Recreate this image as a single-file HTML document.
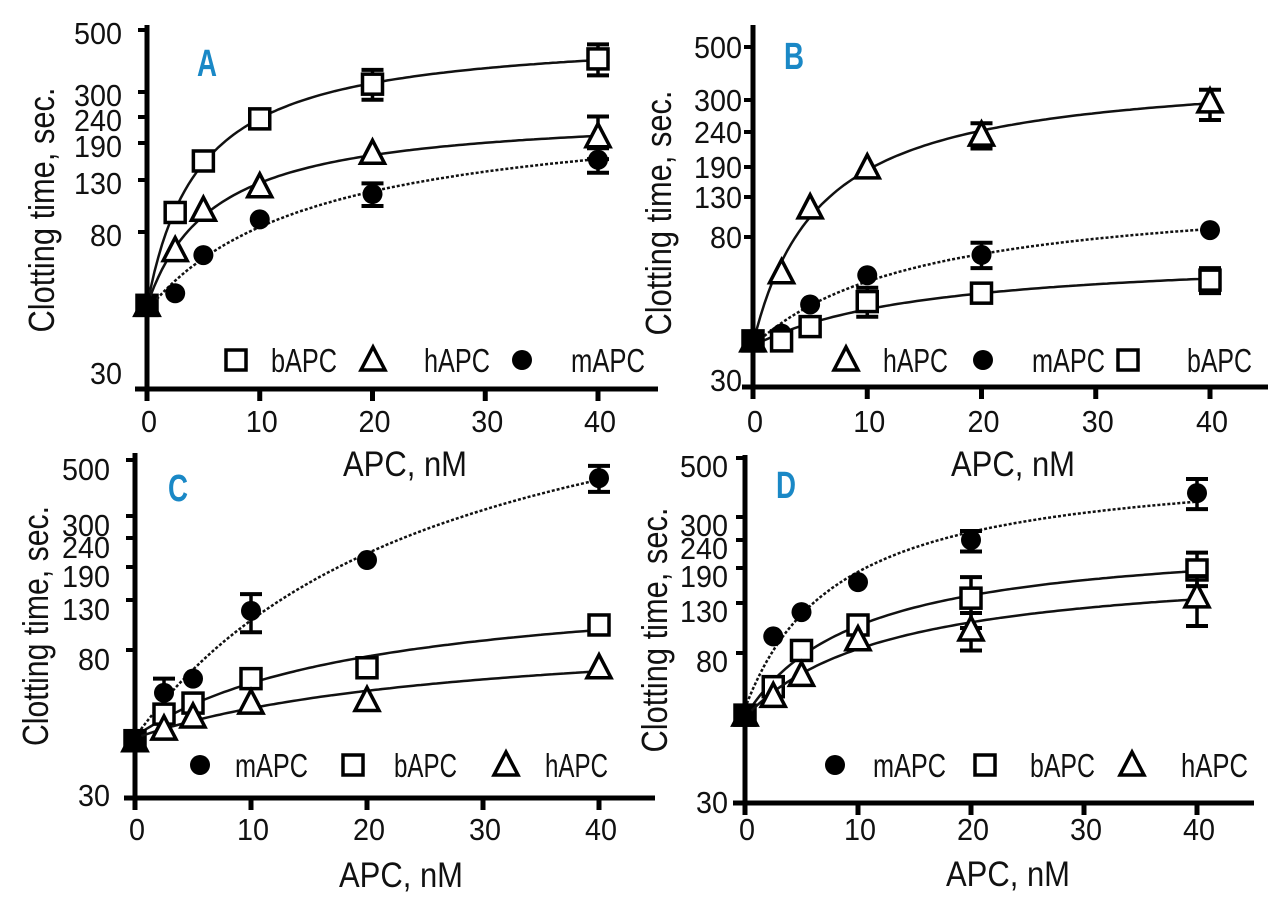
<!DOCTYPE html>
<html><head><meta charset="utf-8"><style>
html,body{margin:0;padding:0;background:#fff;}
svg{display:block;}
text{font-family:"Liberation Sans Narrow","Liberation Sans",sans-serif;fill:#111;}
</style></head><body>
<svg id="chart" width="1280" height="917" viewBox="0 0 1280 917" xmlns="http://www.w3.org/2000/svg"></svg>
<script>
// ---- data ----
const xVals = [0, 2.5, 5, 10, 20, 40];
const xTickVals = [0, 10, 20, 30, 40];
const yTickVals = [30, 80, 130, 190, 240, 300, 500];
const yTickLabels = ["30", "80", "130", "190", "240", "300", "500"];

const aB = [50, 96, 158, 236, 320, 394];
const aBerr = [0, 0, 0, 0, 40, 50];
const aH = [50, 71, 98, 122, 171, 201];
const aHerr = [0, 0, 0, 0, 0, 40];
const aM = [50, 54, 69, 90, 114, 160];
const aMerr = [0, 0, 0, 0, 12, 20];

const bH = [40, 63, 114, 188, 235, 296];
const bHerr = [0, 0, 0, 0, 20, 35];
const bM = [40, 42, 51, 62, 71, 87];
const bMerr = [0, 0, 0, 0, 6, 0];
const bB = [40, 40, 44, 52, 55, 60];
const bBerr = [0, 0, 0, 5, 0, 5];

const cM = [43.5, 60, 66, 117, 201, 424];
const cMerr = [0, 6, 0, 22, 0, 50];
const cB = [43.5, 52, 56, 66, 71, 102];
const cBerr = [0, 0, 0, 0, 0, 0];
const cH = [43.5, 47, 51, 56, 57, 71];
const cHerr = [0, 0, 0, 0, 0, 0];

const dM = [53, 94, 119, 163, 240, 369];
const dMerr = [0, 0, 0, 0, 22, 48];
const dB = [53, 64, 82, 105, 137, 186];
const dBerr = [0, 0, 0, 0, 35, 30];
const dH = [53, 60, 69, 91, 100, 139];
const dHerr = [0, 0, 0, 0, 18, 35];

// ---- panel geometry ----
const panels = [
 {id:'a', letter:'A', ox:147, x40:598, axisY:389, top:25, xStart:135, xEnd:658,
  tickPx:[385,232,180,143,117,92,30], lab30:373, labOff:3, labRight:122,
  letterX:197, letterY:76, titleX:41, titleY:210, titleLen:245, xTitleX:405, xTitleY:476, xLabY:432,
  legY:360,
  series:[{n:'bAPC',v:aB,e:aBerr,m:'sq',dash:false},{n:'hAPC',v:aH,e:aHerr,m:'tri',dash:false},{n:'mAPC',v:aM,e:aMerr,m:'dot',dash:true}],
  legend:[{m:'sq',x:236,t:'bAPC',tx:271,tw:66},{m:'tri',x:373,t:'hAPC',tx:424,tw:66},{m:'dot',x:522,t:'mAPC',tx:571,tw:74}]},
 {id:'b', letter:'B', ox:753, x40:1210, axisY:387, top:25, xStart:742, xEnd:1268,
  tickPx:[384,237,197,167,132,100,47], lab30:380, labOff:0, labRight:742,
  letterX:784, letterY:69, titleX:658, titleY:213, titleLen:245, xTitleX:1013, xTitleY:476, xLabY:432,
  legY:360,
  series:[{n:'hAPC',v:bH,e:bHerr,m:'tri',dash:false},{n:'mAPC',v:bM,e:bMerr,m:'dot',dash:true},{n:'bAPC',v:bB,e:bBerr,m:'sq',dash:false}],
  legend:[{m:'tri',x:846,t:'hAPC',tx:883,tw:65},{m:'dot',x:983,t:'mAPC',tx:1032,tw:73},{m:'sq',x:1128,t:'bAPC',tx:1187,tw:65}]},
 {id:'c', letter:'C', ox:135, x40:599, axisY:798, top:453, xStart:124, xEnd:655,
  tickPx:[796,650,600,567,538,516,460], lab30:795, labOff:9, labRight:110,
  letterX:168, letterY:501, titleX:35, titleY:626, titleLen:240, xTitleX:401, xTitleY:887, xLabY:840,
  legY:765,
  series:[{n:'mAPC',v:cM,e:cMerr,m:'dot',dash:true},{n:'bAPC',v:cB,e:cBerr,m:'sq',dash:false},{n:'hAPC',v:cH,e:cHerr,m:'tri',dash:false}],
  legend:[{m:'dot',x:200,t:'mAPC',tx:235,tw:73},{m:'sq',x:353,t:'bAPC',tx:394,tw:63},{m:'tri',x:506,t:'hAPC',tx:545,tw:63}]},
 {id:'d', letter:'D', ox:745, x40:1197, axisY:803, top:455, xStart:733, xEnd:1254,
  tickPx:[801,653,603,568,540,517,458], lab30:802, labOff:8, labRight:728,
  letterX:776, letterY:498, titleX:654, titleY:630, titleLen:245, xTitleX:1008, xTitleY:886, xLabY:840,
  legY:765,
  series:[{n:'mAPC',v:dM,e:dMerr,m:'dot',dash:true},{n:'bAPC',v:dB,e:dBerr,m:'sq',dash:false},{n:'hAPC',v:dH,e:dHerr,m:'tri',dash:false}],
  legend:[{m:'dot',x:835,t:'mAPC',tx:873,tw:73},{m:'sq',x:985,t:'bAPC',tx:1030,tw:65},{m:'tri',x:1132,t:'hAPC',tx:1181,tw:67}]}
];

const NS = 'http://www.w3.org/2000/svg';
const svg = document.getElementById('chart');
function mk(tag, attrs, parent){
  const el = document.createElementNS(NS, tag);
  for (const k in attrs) el.setAttribute(k, attrs[k]);
  (parent||svg).appendChild(el);
  return el;
}
function xS(p, v){ return p.ox + (p.x40 - p.ox) * v / 40; }
function yS(p, v){
  const lv = Math.log10(v);
  const t = yTickVals;
  let i = 0;
  if (v <= t[0]) i = 0; else if (v >= t[t.length-1]) i = t.length-2;
  else { while (i < t.length-2 && v > t[i+1]) i++; }
  const l0 = Math.log10(t[i]), l1 = Math.log10(t[i+1]);
  const f = (lv - l0) / (l1 - l0);
  return p.tickPx[i] + f * (p.tickPx[i+1] - p.tickPx[i]);
}
// fit y = a + b*x/(c+x) in pixel space
function fitPath(p, vals){
  const ys = vals.map(v=>yS(p,v));
  let best=null;
  for (let c=0.3;c<400;c*=1.05){
    const f = xVals.map(x=>x/(c+x));
    const n=f.length; let sf=0,sy=0,sff=0,sfy=0;
    for(let i=0;i<n;i++){sf+=f[i];sy+=ys[i];sff+=f[i]*f[i];sfy+=f[i]*ys[i];}
    const b=(n*sfy-sf*sy)/(n*sff-sf*sf), a=(sy-b*sf)/n;
    let e=0; for(let i=0;i<n;i++){const r=ys[i]-(a+b*f[i]); e+=r*r;}
    if(!best||e<best.e) best={a,b,c,e};
  }
  let d='';
  for(let k=0;k<=120;k++){
    const x=40*k/120;
    const y=best.a+best.b*x/(best.c+x);
    d+=(k?' L':'M')+xS(p,x).toFixed(1)+','+y.toFixed(1);
  }
  return d;
}
function marker(g, type, cx, cy, solid){
  let el;
  const fill = solid ? '#000' : '#fff';
  if (type==='sq') el = mk('rect',{x:cx-10,y:cy-10,width:20,height:20,fill:fill,stroke:'#000','stroke-width':3.5},g);
  else if (type==='tri') el = mk('polygon',{points:(cx)+','+(cy-13)+' '+(cx-12)+','+(cy+10)+' '+(cx+12)+','+(cy+10),fill:fill,stroke:'#000','stroke-width':3.5},g);
  else el = mk('circle',{cx:cx,cy:cy,r:10,fill:'#000'},g);
  return el;
}

panels.forEach(p=>{
  const g = mk('g',{});
  
  

  const ya = mk('line',{x1:p.ox,y1:p.top,x2:p.ox,y2:p.axisY+12,stroke:'#000','stroke-width':5},g);
  
  
  const xa = mk('line',{x1:p.xStart,y1:p.axisY,x2:p.xEnd,y2:p.axisY,stroke:'#000','stroke-width':5},g);
  
  

  yTickVals.forEach((v,i)=>{
    const y = yS(p, v);
    if (i>0) mk('line',{x1:p.ox-9,y1:y,x2:p.ox,y2:y,stroke:'#000','stroke-width':4},g);
    const ly = (i===0) ? p.lab30 : y + p.labOff;
    const lab = yTickLabels[i];
    const t = mk('text',{x:p.labRight,y:ly+11,'font-size':31,'text-anchor':'end',textLength:lab.length*16,lengthAdjust:'spacingAndGlyphs'},g);
    t.textContent = lab;
    
    
  });
  xTickVals.forEach(v=>{
    const x = xS(p, v);
    mk('line',{x1:x,y1:p.axisY,x2:x,y2:p.axisY+12,stroke:'#000','stroke-width':5},g);
    const s = String(v);
    const t = mk('text',{x:x+2,y:p.xLabY,'font-size':31,'text-anchor':'middle',textLength:s.length*16,lengthAdjust:'spacingAndGlyphs'},g);
    t.textContent = s;
    
    
  });

  const yt = mk('text',{x:0,y:0,'font-size':36,'text-anchor':'middle',textLength:p.titleLen,lengthAdjust:'spacingAndGlyphs',transform:'translate('+(p.titleX+13)+','+p.titleY+') rotate(-90)'},g);
  yt.textContent = 'Clotting time, sec.';
  
  
  const xt = mk('text',{x:p.xTitleX,y:p.xTitleY,'font-size':35,'text-anchor':'middle',textLength:124,lengthAdjust:'spacingAndGlyphs'},g);
  xt.textContent = 'APC, nM';
  
  
  const lt = mk('text',{x:p.letterX,y:p.letterY,'font-size':38,'font-weight':'bold',textLength:20,lengthAdjust:'spacingAndGlyphs',style:'fill:#1a88c6'},g);
  lt.textContent = p.letter;
  
  

  p.series.forEach(s=>{
    const sg = mk('g',{},g);
    
    
    const path = mk('path',{d:fitPath(p, s.v),fill:'none',stroke:'#111','stroke-width':2.5,'stroke-dasharray':s.dash?'3,2':'none'},sg);
    
    
    xVals.forEach((x,i)=>{
      const cx = xS(p,x), cy = yS(p,s.v[i]);
      if (s.e[i]>0){
        const y1 = yS(p, s.v[i]+s.e[i]), y2 = yS(p, Math.max(s.v[i]-s.e[i], 31));
        mk('line',{x1:cx,y1:y1,x2:cx,y2:y2,stroke:'#000','stroke-width':3.5},sg);
        mk('line',{x1:cx-11,y1:y1,x2:cx+11,y2:y1,stroke:'#000','stroke-width':4},sg);
        mk('line',{x1:cx-11,y1:y2,x2:cx+11,y2:y2,stroke:'#000','stroke-width':4},sg);
      }
      const mEl = marker(sg, s.m, cx, cy, i===0);
      
      
    });
  });

  p.legend.forEach(L=>{
    const lg = mk('g',{},g);
    
    
    marker(lg, L.m, L.x, p.legY, false);
    const t = mk('text',{x:L.tx,y:p.legY+12,'font-size':33,textLength:L.tw,lengthAdjust:'spacingAndGlyphs'},lg);
    t.textContent = L.t;
  });
});
</script>
</body></html>
